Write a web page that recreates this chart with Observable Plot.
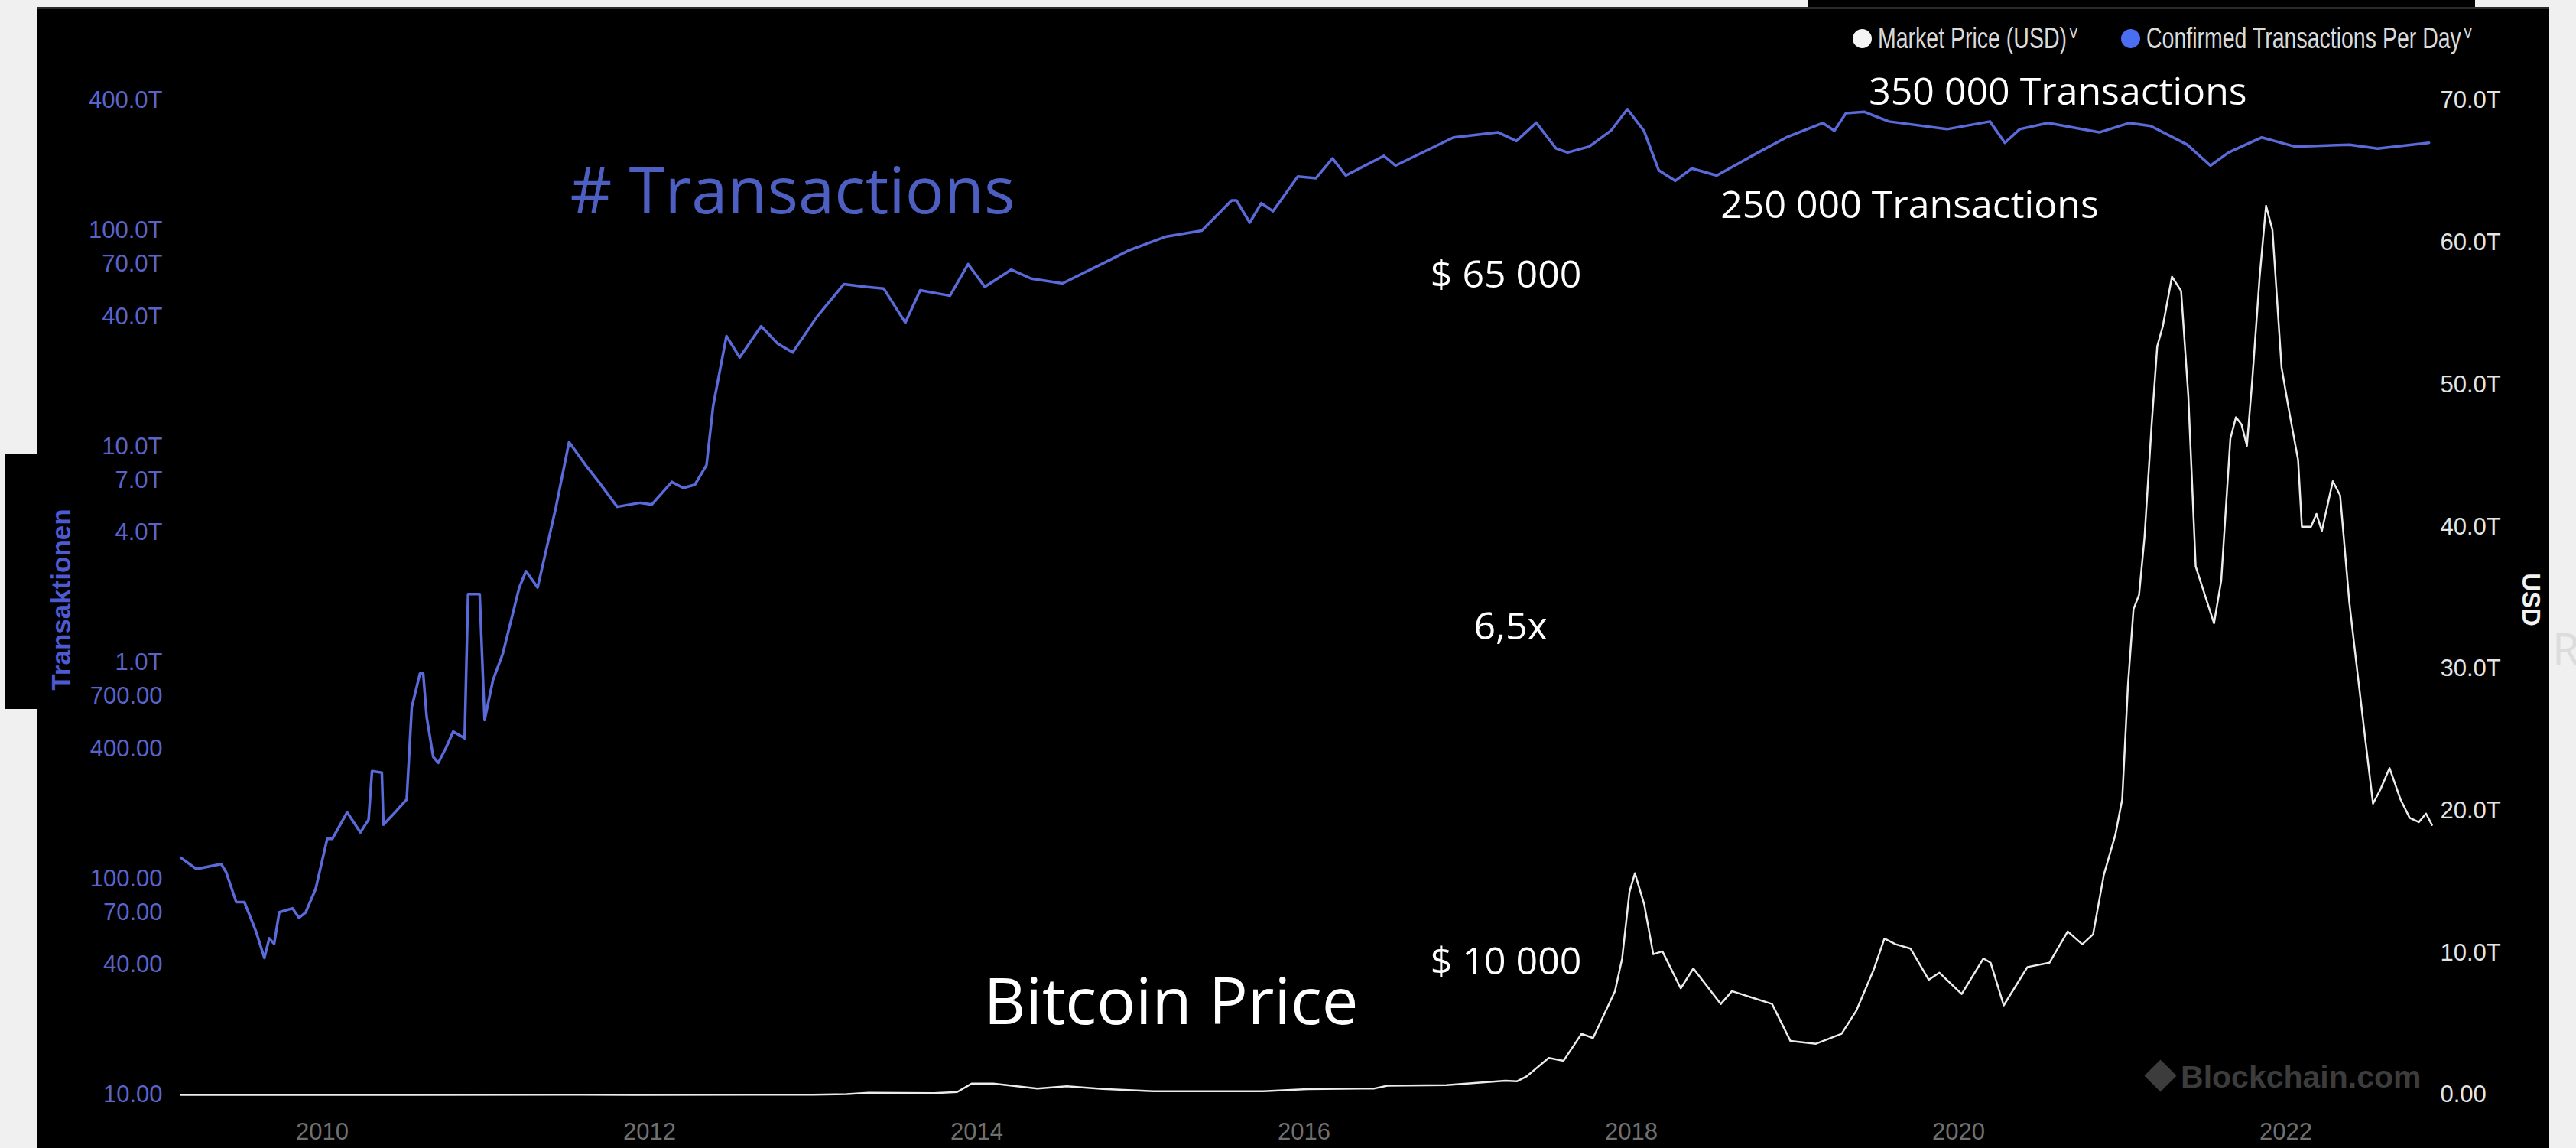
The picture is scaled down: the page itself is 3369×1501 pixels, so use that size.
<!DOCTYPE html>
<html>
<head>
<meta charset="utf-8">
<script src="https://cdn.jsdelivr.net/npm/d3@7"></script>
<script src="https://cdn.jsdelivr.net/npm/@observablehq/plot@0.6"></script>
<style>
  html, body { margin: 0; padding: 0; }
  body { width: 3369px; height: 1501px; background: #f0f0f0; position: relative; overflow: hidden;
         font-family: "Liberation Sans", Arial, sans-serif; }
  #panel { position: absolute; left: 48px; top: 9px; width: 3286px; height: 1492px; background: #000;
           border-top: 3px solid #2b2b2b; box-sizing: border-box; }
  #topbar { position: absolute; left: 2364px; top: 0; width: 873px; height: 10px; background: #000; }
  #leftbox { position: absolute; left: 7px; top: 594px; width: 45px; height: 333px; background: #000; }
  .chart { position: absolute; left: 0; top: 0; }
  .lg-dot { position: absolute; top: 38px; width: 25px; height: 25px; border-radius: 50%; }
  .lg-text { position: absolute; top: 50px; transform: translateY(-50%) scaleX(0.75); transform-origin: left center;
             font-size: 38px; color: #dadada; white-space: nowrap; line-height: 1; }
  .lg-text .chev { font-size: 30px; margin-left: 3px; position: relative; top: -10px; }
  #ytitle-left { position: absolute; left: 80px; top: 784px; transform: translate(-50%, -50%) rotate(-90deg);
                 font: bold 35px "Liberation Sans", Arial, sans-serif; color: #4e5ad2; white-space: nowrap; }
  #ytitle-right { position: absolute; left: 3310px; top: 784px; transform: translate(-50%, -50%) rotate(90deg);
                  font: bold 33px "Liberation Sans", Arial, sans-serif; color: #f2f2f2; white-space: nowrap; }
  #stray { position: absolute; left: 3338px; top: 808px; font: 58px "Open Sans", sans-serif; color: #dcdcdc; }
</style>
</head>
<body>
<div id="topbar"></div>
<div id="panel"></div>
<div id="leftbox"></div>
<div id="charts"></div>
<div id="ytitle-left">Transaktionen</div>
<div id="ytitle-right">USD</div>
<div id="stray">R</div>
<div class="lg-dot" style="left:2423px;background:#f4f4f4"></div>
<div class="lg-text" style="left:2456px">Market Price (USD)<span class="chev">˅</span></div>
<div class="lg-dot" style="left:2774px;background:#4a6ef2"></div>
<div class="lg-text" style="left:2807px">Confirmed Transactions Per Day<span class="chev">˅</span></div>
<script>
// ---------- data ----------
const txYear = [2009.136, 2009.231, 2009.382, 2009.413, 2009.474, 2009.524, 2009.595, 2009.646, 2009.676, 2009.706,
  2009.737, 2009.818, 2009.858, 2009.899, 2009.960, 2010.030, 2010.061, 2010.152, 2010.233, 2010.283,
  2010.304, 2010.364, 2010.374, 2010.445, 2010.516, 2010.547, 2010.597, 2010.617, 2010.638, 2010.678,
  2010.709, 2010.759, 2010.800, 2010.870, 2010.891, 2010.962, 2010.992, 2011.043, 2011.103, 2011.204,
  2011.245, 2011.316, 2011.427, 2011.508, 2011.609, 2011.690, 2011.802, 2011.943, 2012.014, 2012.136,
  2012.206, 2012.277, 2012.348, 2012.389, 2012.470, 2012.551, 2012.682, 2012.783, 2012.875, 2013.026,
  2013.188, 2013.320, 2013.431, 2013.563, 2013.654, 2013.836, 2013.947, 2014.049, 2014.211, 2014.332,
  2014.524, 2014.818, 2014.929, 2015.152, 2015.375, 2015.557, 2015.587, 2015.668, 2015.739, 2015.810,
  2015.962, 2016.073, 2016.174, 2016.255, 2016.488, 2016.559, 2016.913, 2017.186, 2017.298, 2017.419,
  2017.540, 2017.611, 2017.743, 2017.875, 2017.976, 2018.077, 2018.168, 2018.269, 2018.370, 2018.522,
  2018.775, 2018.947, 2019.170, 2019.241, 2019.312, 2019.423, 2019.484, 2019.575, 2019.930, 2020.192,
  2020.283, 2020.374, 2020.547, 2020.860, 2021.042, 2021.174, 2021.397, 2021.539, 2021.650, 2021.853,
  2022.055, 2022.389, 2022.561, 2022.875];
const txCount = [125, 111, 117, 107, 78, 78, 57, 43, 53, 50,
  70, 73, 66, 70, 90, 153, 153, 203, 164, 188,
  315, 310, 178, 203, 233, 624, 891, 890, 561, 367,
  344, 408, 480, 447, 2080, 2080, 543, 830, 1100, 2230,
  2655, 2230, 5210, 10500, 8220, 6870, 5270, 5500, 5400, 6870,
  6440, 6670, 8220, 15500, 32500, 25900, 36100, 30000, 27300, 40200,
  56600, 55000, 54000, 37500, 53000, 50000, 70000, 55000, 66000, 60000,
  57000, 73500, 81000, 93700, 100000, 138000, 138000, 109000, 134000, 123000,
  178000, 175000, 216000, 180000, 222000, 200000, 270000, 285000, 260000, 316000,
  240000, 230000, 245000, 290000, 365000, 290000, 190000, 170000, 194000, 180000,
  230000, 270000, 315000, 290000, 350000, 355000, 340000, 320000, 295000, 320000,
  255000, 295000, 315000, 285000, 315000, 305000, 250000, 200000, 230000, 270000,
  245000, 250000, 240000, 255000];

const priceYear = [2009.136, 2010.55, 2011.45, 2011.90, 2012.60, 2013.00, 2013.206, 2013.34, 2013.74, 2013.88,
  2013.97, 2014.10, 2014.37, 2014.55, 2014.77, 2015.08, 2015.75, 2016.02, 2016.43, 2016.51,
  2016.87, 2017.23, 2017.30, 2017.36, 2017.495, 2017.586, 2017.696, 2017.766, 2017.900, 2017.944,
  2017.989, 2018.022, 2018.079, 2018.134, 2018.190, 2018.302, 2018.379, 2018.547, 2018.615, 2018.860,
  2018.972, 2019.129, 2019.285, 2019.374, 2019.481, 2019.547, 2019.615, 2019.706, 2019.818, 2019.883,
  2020.019, 2020.152, 2020.196, 2020.276, 2020.421, 2020.555, 2020.667, 2020.756, 2020.822, 2020.888,
  2020.958, 2021.000, 2021.035, 2021.069, 2021.103, 2021.136, 2021.180, 2021.214, 2021.248, 2021.304,
  2021.360, 2021.404, 2021.449, 2021.505, 2021.561, 2021.605, 2021.661, 2021.695, 2021.729, 2021.762,
  2021.794, 2021.840, 2021.879, 2021.918, 2021.974, 2022.019, 2022.075, 2022.098, 2022.154, 2022.187,
  2022.220, 2022.287, 2022.332, 2022.388, 2022.433, 2022.488, 2022.533, 2022.578, 2022.634, 2022.701,
  2022.757, 2022.813, 2022.857, 2022.893];
const priceUsd = [0, 0.07, 20, 3, 10, 13, 60, 150, 120, 200,
  800, 800, 450, 600, 420, 250, 260, 400, 450, 650,
  680, 1000, 950, 1300, 2600, 2400, 4300, 4000, 7300, 9600,
  14300, 15600, 13400, 9900, 10100, 7500, 8900, 6400, 7300, 6400,
  3800, 3600, 4300, 5900, 8800, 11000, 10600, 10300, 8100, 8600,
  7100, 9600, 9300, 6300, 9000, 9300, 11500, 10600, 11300, 15500,
  18300, 20800, 28800, 34200, 35200, 39200, 47200, 52700, 54100, 57600,
  56600, 49200, 37200, 35200, 33200, 36200, 46200, 47700, 47200, 45700,
  50200, 57600, 62600, 60900, 51200, 48200, 44700, 40000, 40000, 40900,
  39700, 43200, 42200, 34700, 30200, 24800, 20500, 21500, 23000, 20800,
  19500, 19200, 19800, 19000];

const yearTicks = [2010, 2012, 2014, 2016, 2018, 2020, 2022];
const txTickValues = [10, 40, 70, 100, 400, 700, 1000, 4000, 7000, 10000, 40000, 70000, 100000, 400000];
const txTickLabels = ["10.00", "40.00", "70.00", "100.00", "400.00", "700.00", "1.0T", "4.0T", "7.0T",
  "10.0T", "40.0T", "70.0T", "100.0T", "400.0T"];
const priceTickValues = [0, 10000, 20000, 30000, 40000, 50000, 60000, 70000];
const priceTickLabels = ["0.00", "10.0T", "20.0T", "30.0T", "40.0T", "50.0T", "60.0T", "70.0T"];

// annotations (text, anchor year, anchor value on the respective axis)
const txNotes = ["# Transactions", "350 000 Transactions", "250 000 Transactions"];
const txNoteYear = [2012.874, 2020.607, 2019.701];
const txNoteValue = [120500, 382800, 114800];
const priceNotes = ["$ 65 000", "6,5x", "$ 10 000", "Bitcoin Price"];
const priceNoteYear = [2017.234, 2017.262, 2017.234, 2015.187];
const priceNoteValue = [56810, 32040, 8454, 4954];

// ---------- build ----------
const tx = txYear.map((year, i) => ({year, count: txCount[i]}));
const price = priceYear.map((year, i) => ({year, usd: priceUsd[i]}));
const txNoteRows = txNotes.map((text, i) => ({text, year: txNoteYear[i], value: txNoteValue[i]}));
const priceNoteRows = priceNotes.map((text, i) => ({text, year: priceNoteYear[i], value: priceNoteValue[i]}));
const txLabel = new Map(txTickValues.map((v, i) => [v, txTickLabels[i]]));
const priceLabel = new Map(priceTickValues.map((v, i) => [v, priceTickLabels[i]]));

const W = 3369, H = 1501;
const frame = {width: W, height: H, marginLeft: 207, marginRight: 166, marginTop: 131, marginBottom: 70};
const sans = '"Liberation Sans", Arial, sans-serif';
const callout = '"Open Sans", "Noto Sans", sans-serif';

const txPlot = Plot.plot({
  ...frame,
  style: {background: "transparent", overflow: "visible"},
  x: {type: "linear", domain: [2009, 2023], axis: null, label: null},
  y: {type: "log", domain: [10, 400000], axis: null, label: null},
  marks: [
    Plot.axisY(txTickValues, {anchor: "left", label: null, tickSize: 0, tickPadding: 0, dx: 5, tickFormat: d => txLabel.get(d),
      fill: "#5a64c8", fontSize: 31, fontFamily: sans}),
    Plot.axisX(yearTicks, {anchor: "bottom", label: null, tickSize: 0, tickPadding: 36, tickFormat: d => String(d),
      fill: "#707070", fontSize: 31, fontFamily: sans}),
    Plot.line(tx, {x: "year", y: "count", stroke: "#5a6ad8", strokeWidth: 3.5}),
    Plot.text(txNoteRows.slice(0, 1), {x: "year", y: "value", text: "text", lineAnchor: "bottom",
      fill: "#4d5fc1", fontSize: 85, fontFamily: callout, ariaLabel: "note-big"}),
    Plot.text(txNoteRows.slice(1), {x: "year", y: "value", text: "text", lineAnchor: "bottom",
      fill: "#ffffff", fontSize: 50, fontFamily: callout, ariaLabel: "note-tx"})
  ]
});

const pricePlot = Plot.plot({
  ...frame,
  style: {background: "transparent", overflow: "visible"},
  x: {type: "linear", domain: [2009, 2023], axis: null, label: null},
  y: {type: "linear", domain: [0, 70000], axis: null, label: null},
  marks: [
    Plot.axisY(priceTickValues, {anchor: "right", label: null, tickSize: 0, tickPadding: 2, dx: -14,
      tickFormat: d => priceLabel.get(d), fill: "#e4e4e4", fontSize: 31, fontFamily: sans}),
    Plot.text(["Blockchain.com"], {frameAnchor: "bottom-right", dx: -37, dy: -10, textAnchor: "end",
      lineAnchor: "bottom", fill: "#3c3c3c", fontSize: 41, fontWeight: "bold", fontFamily: sans}),
    Plot.dot([0], {frameAnchor: "bottom-right", dx: -378, dy: -25, symbol: "diamond2", r: 19, fill: "#3c3c3c"}),
    Plot.line(price, {x: "year", y: "usd", stroke: "#ececec", strokeWidth: 2.5}),
    Plot.text(priceNoteRows.slice(0, 3), {x: "year", y: "value", text: "text", lineAnchor: "bottom",
      fill: "#ffffff", fontSize: 50, fontFamily: callout, ariaLabel: "note-price"}),
    Plot.text(priceNoteRows.slice(3), {x: "year", y: "value", text: "text", lineAnchor: "bottom",
      fill: "#ffffff", fontSize: 85, fontFamily: callout, ariaLabel: "note-btc"})
  ]
});

function fit(svg, label, widths) {
  svg.querySelectorAll(`g[aria-label="${label}"] text`).forEach((t, i) => {
    t.setAttribute("textLength", widths[i]);
    t.setAttribute("lengthAdjust", "spacingAndGlyphs");
  });
}
fit(txPlot, "note-big", [559]);
fit(txPlot, "note-tx", [483, 480]);
fit(pricePlot, "note-price", [194, 91, 194]);
fit(pricePlot, "note-btc", [475]);

for (const svg of [txPlot, pricePlot]) {
  svg.classList.add("chart");
  svg.style.maxWidth = "none";
  document.getElementById("charts").appendChild(svg);
}
</script>
</body>
</html>
